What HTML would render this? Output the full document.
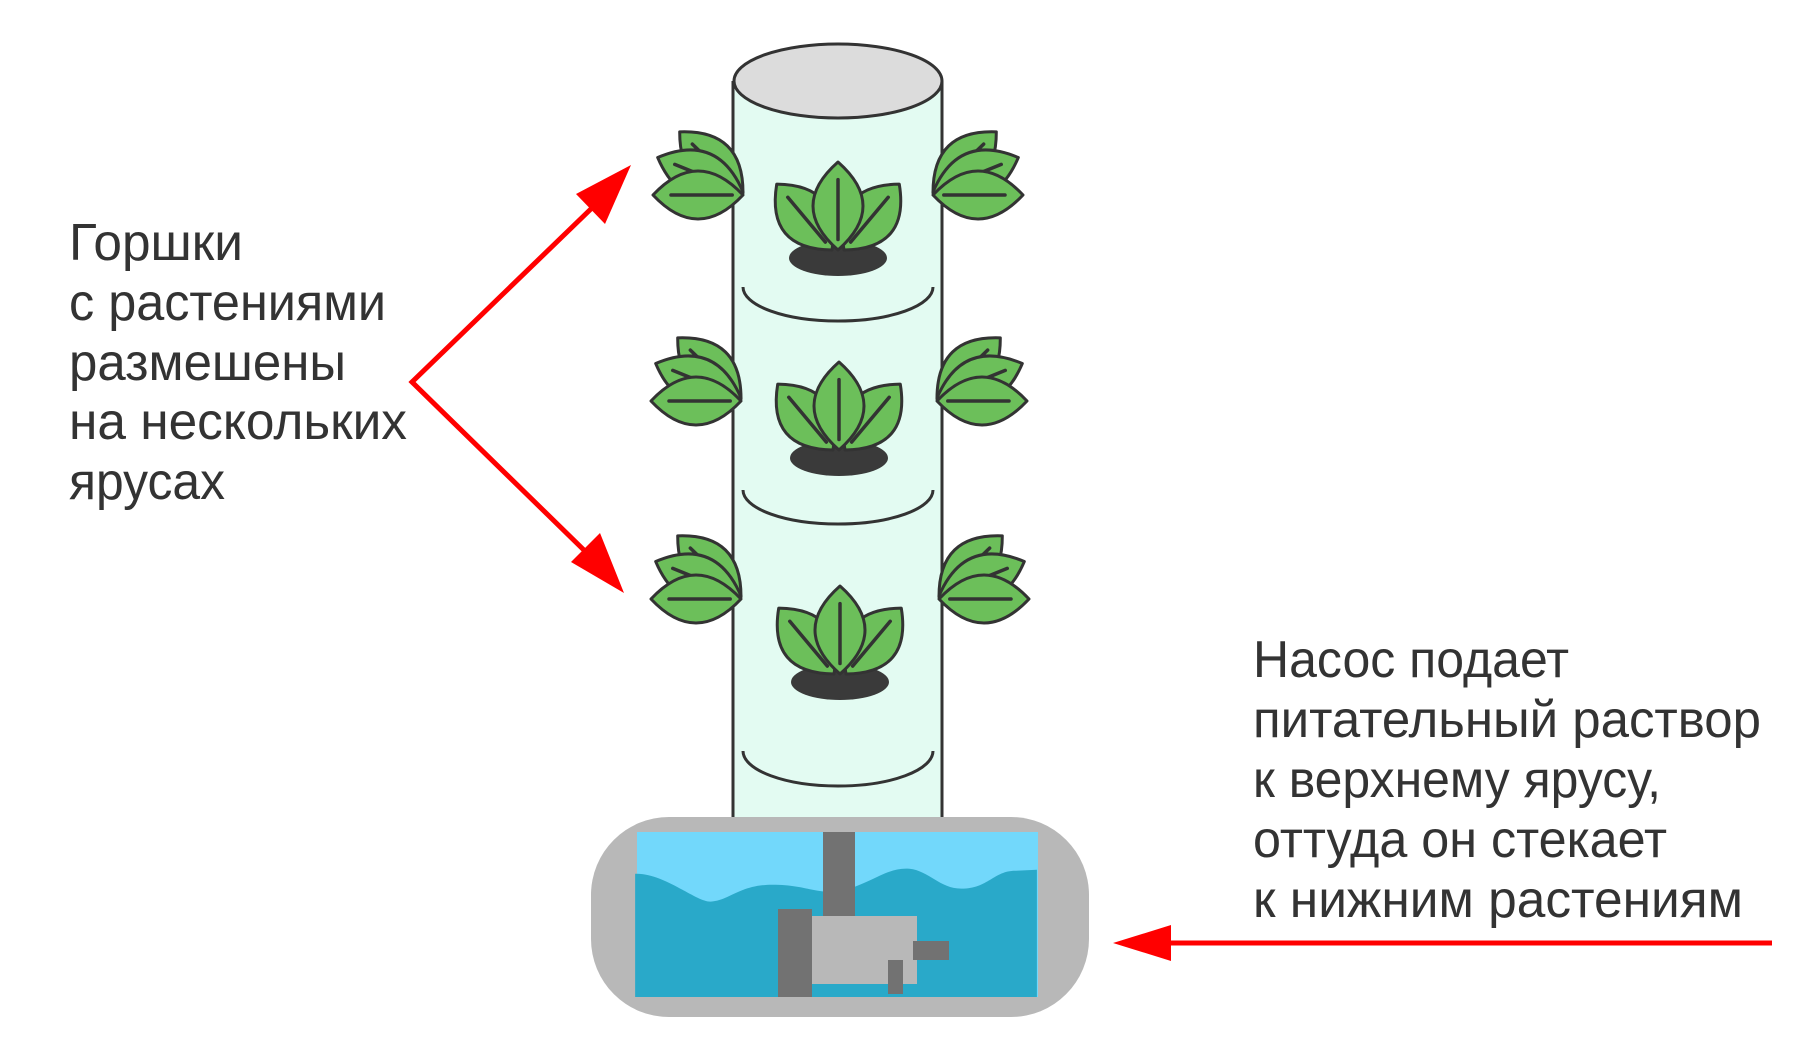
<!DOCTYPE html>
<html><head><meta charset="utf-8"><style>
html,body{margin:0;padding:0;background:#fff;}
svg{display:block;}
text{font-family:"Liberation Sans","DejaVu Sans",sans-serif;fill:#333;font-size:52px;}
</style></head><body>
<svg width="1800" height="1047" viewBox="0 0 1800 1047" xmlns="http://www.w3.org/2000/svg">
<defs>
  <g id="leaf">
    <path d="M0 0 Q50 -40 100 0 Q50 40 0 0 Z" fill="#6cbf5a" stroke="#333" stroke-width="3" vector-effect="non-scaling-stroke" stroke-linejoin="round"/>
    <line x1="12" y1="0" x2="80" y2="0" stroke="#333" stroke-width="3.5" vector-effect="non-scaling-stroke" stroke-linecap="round"/>
  </g>
  <g id="plant">
    <ellipse cx="0" cy="95" rx="49" ry="18" fill="#3a3a3a"/>
    <use href="#leaf" transform="translate(-6,87) rotate(-130) scale(0.86,1.25)"/>
    <use href="#leaf" transform="translate(6,87) rotate(-50) scale(0.86,1.25)"/>
    <use href="#leaf" transform="translate(0,87) rotate(-90) scale(0.88,1.25)"/>
  </g>
  <g id="side">
    <use href="#leaf" transform="translate(743,193) rotate(-136) scale(0.88,1.15)"/>
    <use href="#leaf" transform="translate(743,192) rotate(-158) scale(0.92,1.15)"/>
    <use href="#leaf" transform="translate(743,195) rotate(180) scale(0.9,1.2)"/>
  </g>
</defs>

<!-- tower -->
<rect x="733" y="81" width="209" height="740" fill="#e3fbf2"/>
<line x1="733" y1="81" x2="733" y2="821" stroke="#333" stroke-width="3"/>
<line x1="942" y1="81" x2="942" y2="821" stroke="#333" stroke-width="3"/>
<ellipse cx="838" cy="81" rx="104" ry="37" fill="#dcdcdc" stroke="#333" stroke-width="3"/>

<!-- arcs -->
<path d="M743 287 A95 34 0 0 0 933 287" fill="none" stroke="#333" stroke-width="3"/>
<path d="M743 490 A95 34 0 0 0 933 490" fill="none" stroke="#333" stroke-width="3"/>
<path d="M743 751 A95 35 0 0 0 933 751" fill="none" stroke="#333" stroke-width="3"/>

<!-- center plants -->
<use href="#plant" transform="translate(838,163)"/>
<use href="#plant" transform="translate(839,363)"/>
<use href="#plant" transform="translate(840,587)"/>

<!-- side clusters -->
<use href="#side"/>
<use href="#side" transform="translate(-2,206)"/>
<use href="#side" transform="translate(-2,404)"/>
<use href="#side" transform="translate(1676,0) scale(-1,1)"/>
<use href="#side" transform="translate(1680,206) scale(-1,1)"/>
<use href="#side" transform="translate(1682,404) scale(-1,1)"/>

<!-- tank -->
<g transform="translate(-3,-5)">
<rect x="594" y="822" width="498" height="200" rx="78" fill="#b8b8b8"/>
<rect x="640" y="837" width="401" height="165" fill="#72d8fb"/>
<path transform="translate(-45.5,11) scale(1.08,0.994)" d="M633 873 C660 872 690 902 703 901 C720 900 730 884 760 884 C790 884 800 893 820 891 C850 885 865 866 887 868 C905 870 915 888 935 888 C960 888 965 870 985 870 L1005 869 L1005 997 L633 997 Z" fill="#29a9c9"/>
<rect x="826" y="837" width="32" height="86" fill="#727272"/>
<rect x="815" y="921" width="105" height="68" fill="#b8b8b8"/>
<rect x="781" y="914" width="34" height="88" fill="#727272"/>
<rect x="916" y="946" width="36" height="19" fill="#727272"/>
<rect x="891" y="965" width="15" height="34" fill="#727272"/>
</g>

<!-- arrows -->
<g stroke="#f00" stroke-width="5" fill="none" stroke-linejoin="miter">
  <polyline points="595,205 412,382 590,556"/>
  <line x1="1160" y1="943" x2="1772" y2="943"/>
</g>
<polygon points="631,165 576,194 605,224" fill="#f00"/>
<polygon points="624,593 571,562 600,533" fill="#f00"/>
<polygon points="1113,943 1171,925 1171,961" fill="#f00"/>

<!-- text -->
<text x="69" y="260" textLength="174" lengthAdjust="spacingAndGlyphs">Горшки</text>
<text x="69" y="320" textLength="317" lengthAdjust="spacingAndGlyphs">с растениями</text>
<text x="69" y="380" textLength="277" lengthAdjust="spacingAndGlyphs">размешены</text>
<text x="69" y="439" textLength="338" lengthAdjust="spacingAndGlyphs">на нескольких</text>
<text x="69" y="499" textLength="156" lengthAdjust="spacingAndGlyphs">ярусах</text>

<text x="1253" y="677" textLength="316" lengthAdjust="spacingAndGlyphs">Насос подает</text>
<text x="1253" y="737" textLength="508" lengthAdjust="spacingAndGlyphs">питательный раствор</text>
<text x="1253" y="797" textLength="408" lengthAdjust="spacingAndGlyphs">к верхнему ярусу,</text>
<text x="1253" y="857" textLength="414" lengthAdjust="spacingAndGlyphs">оттуда он стекает</text>
<text x="1253" y="917" textLength="490" lengthAdjust="spacingAndGlyphs">к нижним растениям</text>
</svg>
</body></html>
